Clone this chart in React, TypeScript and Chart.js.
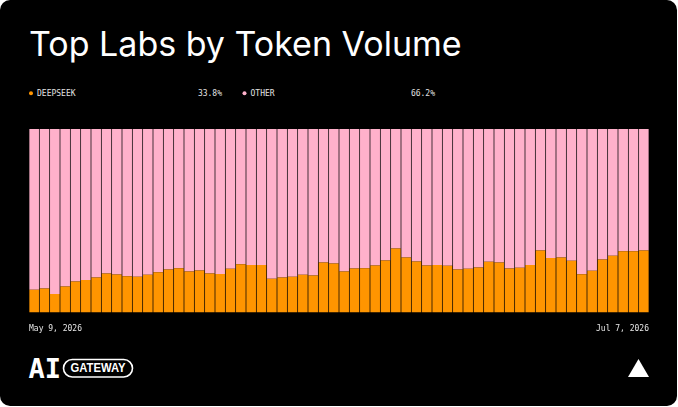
import React, { useEffect, useRef } from "react";
import { Chart, registerables } from "chart.js";

Chart.register(...registerables);

const dates: string[] = [
  "May 9, 2026", "May 10, 2026", "May 11, 2026", "May 12, 2026", "May 13, 2026",
  "May 14, 2026", "May 15, 2026", "May 16, 2026", "May 17, 2026", "May 18, 2026",
  "May 19, 2026", "May 20, 2026", "May 21, 2026", "May 22, 2026", "May 23, 2026",
  "May 24, 2026", "May 25, 2026", "May 26, 2026", "May 27, 2026", "May 28, 2026",
  "May 29, 2026", "May 30, 2026", "May 31, 2026", "Jun 1, 2026", "Jun 2, 2026",
  "Jun 3, 2026", "Jun 4, 2026", "Jun 5, 2026", "Jun 6, 2026", "Jun 7, 2026",
  "Jun 8, 2026", "Jun 9, 2026", "Jun 10, 2026", "Jun 11, 2026", "Jun 12, 2026",
  "Jun 13, 2026", "Jun 14, 2026", "Jun 15, 2026", "Jun 16, 2026", "Jun 17, 2026",
  "Jun 18, 2026", "Jun 19, 2026", "Jun 20, 2026", "Jun 21, 2026", "Jun 22, 2026",
  "Jun 23, 2026", "Jun 24, 2026", "Jun 25, 2026", "Jun 26, 2026", "Jun 27, 2026",
  "Jun 28, 2026", "Jun 29, 2026", "Jun 30, 2026", "Jul 1, 2026", "Jul 2, 2026",
  "Jul 3, 2026", "Jul 4, 2026", "Jul 5, 2026", "Jul 6, 2026", "Jul 7, 2026",
];

const deepseekShare: number[] = [
  12.3, 13.0, 10.1, 14.1, 16.8, 17.7, 19.0, 21.2, 20.6, 19.7,
  19.5, 20.5, 21.9, 23.4, 24.1, 22.3, 22.8, 21.2, 21.0, 23.8,
  26.3, 25.9, 25.9, 18.3, 19.0, 19.5, 20.5, 20.1, 27.2, 26.7,
  22.3, 23.9, 24.1, 25.6, 28.3, 34.9, 29.9, 27.8, 25.6, 25.9,
  25.4, 23.4, 23.8, 24.5, 27.6, 27.2, 23.9, 24.3, 25.9, 33.8,
  29.6, 29.9, 28.1, 20.8, 22.7, 28.8, 30.9, 33.4, 33.4, 33.8,
];

const otherShare: number[] = [
  87.7, 87.0, 89.9, 85.9, 83.2, 82.3, 81.0, 78.8, 79.4, 80.3,
  80.5, 79.5, 78.1, 76.6, 75.9, 77.7, 77.2, 78.8, 79.0, 76.2,
  73.7, 74.1, 74.1, 81.7, 81.0, 80.5, 79.5, 79.9, 72.8, 73.3,
  77.7, 76.1, 75.9, 74.4, 71.7, 65.1, 70.1, 72.2, 74.4, 74.1,
  74.6, 76.6, 76.2, 75.5, 72.4, 72.8, 76.1, 75.7, 74.1, 66.2,
  70.4, 70.1, 71.9, 79.2, 77.3, 71.2, 69.1, 66.6, 66.6, 66.2,
];

const seriesNames: string[] = ["DEEPSEEK", "OTHER"];
const seriesTotals: string[] = ["33.8%", "66.2%"];
const seriesColors: string[] = ["#ff9500", "#ffb1cb"];

const MONO = "'DejaVu Sans Mono', 'Liberation Mono', monospace";

export default function App() {
  const canvasRef = useRef<HTMLCanvasElement | null>(null);

  useEffect(() => {
    if (!canvasRef.current) return;
    const last = dates.length - 1;
    const chart = new Chart(canvasRef.current, {
      type: "bar",
      data: {
        labels: dates,
        datasets: [
          {
            label: seriesNames[0],
            data: deepseekShare,
            backgroundColor: seriesColors[0],
            borderWidth: 0,
            barPercentage: 0.93,
            categoryPercentage: 1,
          },
          {
            label: seriesNames[1],
            data: otherShare,
            backgroundColor: seriesColors[1],
            borderWidth: 0,
            barPercentage: 0.93,
            categoryPercentage: 1,
          },
        ],
      },
      options: {
        animation: false,
        responsive: false,
        layout: { padding: 0 },
        plugins: { legend: { display: false }, tooltip: { enabled: false } },
        scales: {
          x: { display: false, stacked: true },
          xl: {
            type: "category",
            position: "bottom",
            offset: false,
            grid: { display: false, drawTicks: false },
            border: { display: false },
            ticks: {
              autoSkip: false,
              maxRotation: 0,
              minRotation: 0,
              align: "inner",
              padding: 12,
              color: "#e6e6e6",
              font: { family: MONO, size: 8 },
              callback: (_v: any, i: number) => (i === 0 || i === last ? dates[i] : ""),
            },
          },
          y: { display: false, stacked: true, min: 0, max: 100 },
        },
      } as any,
    });
    return () => chart.destroy();
  }, []);

  return (
    <div style={{ position: "fixed", left: 0, top: 0, width: 678, height: 407, background: "#ffffff" }}>
      <div
        style={{
          position: "absolute",
          left: 0,
          top: 0,
          width: 677,
          height: 406,
          background: "#000000",
          borderRadius: 10,
        }}
      />
      <svg
        width={678}
        height={407}
        style={{ position: "absolute", left: 0, top: 0 }}
      >
        <text x={29} y={56} fill="#ffffff" fontFamily="Inter, 'Noto Sans', sans-serif" fontSize={34} fontWeight={400} letterSpacing={0}>
          Top Labs by Token Volume
        </text>
        <circle cx={31} cy={93.3} r={2} fill={seriesColors[0]} />
        <text x={37} y={96.2} fill="#e0e0e0" fontFamily={MONO} fontSize={8}>{seriesNames[0]}</text>
        <text x={222} y={96.2} fill="#e0e0e0" fontFamily={MONO} fontSize={8} textAnchor="end">{seriesTotals[0]}</text>
        <circle cx={244.5} cy={93.3} r={2} fill={seriesColors[1]} />
        <text x={250.5} y={96.2} fill="#e0e0e0" fontFamily={MONO} fontSize={8}>{seriesNames[1]}</text>
        <text x={435} y={96.2} fill="#e0e0e0" fontFamily={MONO} fontSize={8} textAnchor="end">{seriesTotals[1]}</text>

        <text x={28.5} y={377.5} fill="#ffffff" fontFamily={MONO} fontSize={27} fontWeight={700}>AI</text>
        <rect x={63.5} y={359.5} width={69} height={17.5} rx={8.75} fill="none" stroke="#ffffff" strokeWidth={1.6} />
        <text
          x={98}
          y={372.4}
          fill="#ffffff"
          fontFamily="'Liberation Sans Narrow', 'Liberation Sans', Arial, sans-serif"
          fontSize={12}
          fontWeight={700}
          textAnchor="middle"
          textLength={55}
          lengthAdjust="spacingAndGlyphs"
        >
          GATEWAY
        </text>
        <polygon points="638.5,359 649,377 628,377" fill="#ffffff" />
      </svg>
      <canvas
        ref={canvasRef}
        width={644}
        height={217}
        style={{ position: "absolute", left: 17, top: 129, width: 644, height: 217 }}
      />
    </div>
  );
}
